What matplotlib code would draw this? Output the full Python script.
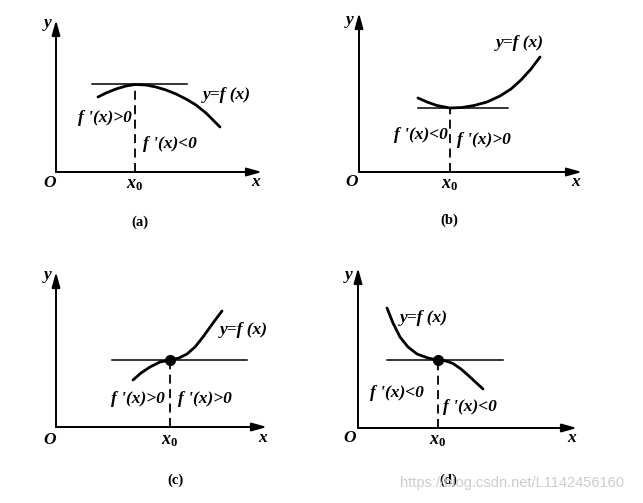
import numpy as np
import matplotlib
matplotlib.use("Agg")
import matplotlib.pyplot as plt

plt.rcParams['mathtext.fontset'] = 'custom'
plt.rcParams['mathtext.rm'] = 'Liberation Serif:bold'
plt.rcParams['mathtext.it'] = 'Liberation Serif:italic:bold'

# curve points (units: origin at axes corner)
a_x = [4.2, 5.0, 6.0, 7.0, 7.9, 9.0, 10.0, 11.0, 12.0, 13.0, 14.0, 15.0, 16.4]
a_y = [7.5, 7.9, 8.3, 8.6, 8.75, 8.7, 8.5, 8.2, 7.8, 7.3, 6.7, 5.9, 4.5]
b_x = [5.9, 6.8, 7.8, 9.1, 10.3, 11.5, 12.8, 14.1, 15.2, 16.2, 17.2, 18.1]
b_y = [7.4, 7.0, 6.65, 6.4, 6.45, 6.65, 7.0, 7.6, 8.3, 9.2, 10.3, 11.5]
c_x = [7.7, 8.5, 9.4, 10.4, 11.4, 12.3, 13.1, 13.9, 14.7, 15.7, 16.6]
c_y = [4.7, 5.4, 6.0, 6.5, 6.7, 6.9, 7.3, 8.0, 9.0, 10.4, 11.6]
d_x = [2.9, 3.5, 4.2, 5.0, 5.9, 7.0, 8.0, 8.8, 9.5, 10.3, 11.2, 12.5]
d_y = [12.0, 10.5, 9.1, 8.1, 7.4, 7.0, 6.8, 6.7, 6.45, 5.9, 5.1, 3.9]

x0_vals = [7.9, 9.1, 11.4, 8.0]
tan_y = [8.8, 6.4, 6.7, 6.8]
tan_span = [(3.6, 13.1), (5.9, 14.9), (5.6, 19.1), (2.9, 14.5)]
axis_tip = [(20.6, 15.2), (22.3, 15.9), (21.1, 15.5), (21.9, 16.0)]
captions = ['(a)', '(b)', '(c)', '(d)']
has_dot = [False, False, True, True]

origins_px = [(56, 172), (359, 172), (56, 427), (358, 428)]

W, H = 643, 503
fig = plt.figure(figsize=(W / 100, H / 100), dpi=100)

serif = dict(family='Liberation Serif', style='italic', weight='bold')
lab_fs = 12.5


def make_ax(ox, oy):
    ax = fig.add_axes([(ox - 20) / W, (H - (oy + 70)) / H, 250 / W, 240 / H])
    ax.set_xlim(-2, 23)
    ax.set_ylim(-7, 17)
    ax.axis('off')
    return ax


def draw_axes(ax, tip):
    kw = dict(arrowstyle='-|>,head_length=0.9,head_width=0.25', lw=1.4, color='k',
              shrinkA=0, shrinkB=0, mutation_scale=10)
    ax.annotate('', xy=(tip[0], 0), xytext=(0, 0), arrowprops=kw)
    ax.annotate('', xy=(0, tip[1]), xytext=(0, 0), arrowprops=kw)


curves = [(a_x, a_y), (b_x, b_y), (c_x, c_y), (d_x, d_y)]
axes = []
for i in range(4):
    ax = make_ax(*origins_px[i])
    axes.append(ax)
    draw_axes(ax, axis_tip[i])
    cx, cy = curves[i]
    ax.plot(cx, cy, color='k', lw=2.0, solid_capstyle='round')
    ax.plot(tan_span[i], [tan_y[i], tan_y[i]], color='k', lw=1.1)
    ax.plot([x0_vals[i], x0_vals[i]], [0, tan_y[i]], color='k', lw=1.3,
            dashes=(5, 3))
    if has_dot[i]:
        ax.plot([x0_vals[i]], [tan_y[i]], 'o', color='k', ms=7)

# labels panel by panel
lbl = dict(fontsize=lab_fs, **serif)
x0_fs = 13

ax = axes[0]
ax.text(-0.8, 14.9, 'y', ha='center', va='center', **lbl)
ax.text(-0.6, -1.1, 'O', ha='center', va='center', **lbl)
ax.text(20.0, -1.0, 'x', ha='center', va='center', **lbl)
ax.text(7.9, -1.2, r'$x_0$', ha='center', va='center', fontsize=x0_fs)
ax.text(17.1, 7.7, 'y=f (x)', ha='center', va='center', **lbl)
ax.text(7.6, 5.4, "f '(x)>0", ha='right', va='center', **lbl)
ax.text(8.7, 2.8, "f '(x)<0", ha='left', va='center', **lbl)

ax = axes[1]
ax.text(-0.9, 15.2, 'y', ha='center', va='center', **lbl)
ax.text(-0.7, -1.0, 'O', ha='center', va='center', **lbl)
ax.text(21.7, -1.0, 'x', ha='center', va='center', **lbl)
ax.text(9.1, -1.2, r'$x_0$', ha='center', va='center', fontsize=x0_fs)
ax.text(16.1, 12.9, 'y=f (x)', ha='center', va='center', **lbl)
ax.text(8.9, 3.7, "f '(x)<0", ha='right', va='center', **lbl)
ax.text(9.8, 3.2, "f '(x)>0", ha='left', va='center', **lbl)

ax = axes[2]
ax.text(-0.8, 15.2, 'y', ha='center', va='center', **lbl)
ax.text(-0.6, -1.3, 'O', ha='center', va='center', **lbl)
ax.text(20.7, -1.1, 'x', ha='center', va='center', **lbl)
ax.text(11.4, -1.3, r'$x_0$', ha='center', va='center', fontsize=x0_fs)
ax.text(18.8, 9.7, 'y=f (x)', ha='center', va='center', **lbl)
ax.text(10.9, 2.8, "f '(x)>0", ha='right', va='center', **lbl)
ax.text(12.2, 2.8, "f '(x)>0", ha='left', va='center', **lbl)

ax = axes[3]
ax.text(-0.9, 15.3, 'y', ha='center', va='center', **lbl)
ax.text(-0.8, -1.0, 'O', ha='center', va='center', **lbl)
ax.text(21.4, -1.0, 'x', ha='center', va='center', **lbl)
ax.text(8.0, -1.2, r'$x_0$', ha='center', va='center', fontsize=x0_fs)
ax.text(6.6, 11.0, 'y=f (x)', ha='center', va='center', **lbl)
ax.text(3.9, 3.5, "f '(x)<0", ha='center', va='center', **lbl)
ax.text(8.5, 2.1, "f '(x)<0", ha='left', va='center', **lbl)

cap_pos = [(8.4, -5.0), (9.0, -4.8), (11.9, -5.3), (9.0, -5.2)]
for ax, cap, p in zip(axes, captions, cap_pos):
    ax.text(p[0], p[1], cap, ha='center', va='center', fontsize=10.5,
            family='Liberation Serif', weight='bold')

# watermark sits over caption (d) in the reference too
fig.text(512 / W, 1 - 483 / H, 'https://blog.csdn.net/L1142456160', ha='center',
         va='center', fontsize=10.5, family='Liberation Sans', color='#cccccc',
         zorder=5)

fig.savefig('out.png', dpi=100)
